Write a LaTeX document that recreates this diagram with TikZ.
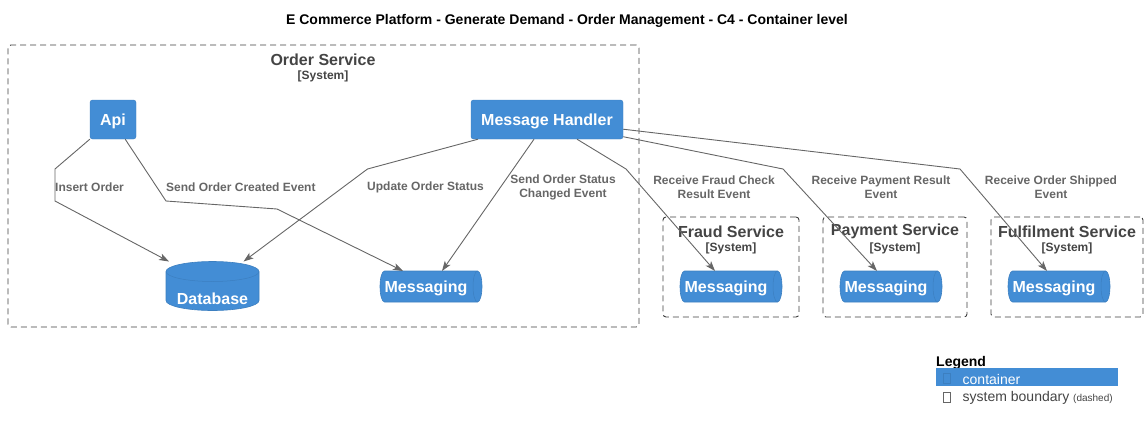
\documentclass[tikz,border=0pt]{standalone}
\usepackage{fontspec}
\setmainfont{Liberation Sans}
\usetikzlibrary{arrows.meta,positioning}
\definecolor{c4blue}{HTML}{438DD5}
\definecolor{c4line}{HTML}{3C7FC0}
\definecolor{relgray}{HTML}{666666}
\definecolor{bndgray}{HTML}{444444}
\newcommand{\pxfont}[1]{\fontsize{#1}{#1}\selectfont}

\begin{document}
\begin{tikzpicture}[x=1pt,y=-1pt,
    container/.style={draw=c4line,fill=c4blue,rounded corners=2.5pt,text=white,font=\pxfont{16}\bfseries,inner sep=0pt,text depth=0pt},
    slot/.style={inner sep=0pt,outer sep=0pt},
    cyl/.style={draw=c4line,fill=c4blue,line width=0.6pt},
    inner/.style={text=white,font=\pxfont{16}\bfseries,inner sep=0pt,yshift=-1.5pt},
    boundary/.style={draw=bndgray!90!black,line width=0.9pt,dash pattern=on 6pt off 4pt,rounded corners=3pt,inner sep=0pt},
    bndtitle/.style={text=bndgray,font=\pxfont{16}\bfseries,inner sep=0pt,yshift=-1.5pt},
    bndtype/.style={text=bndgray,font=\pxfont{12}\bfseries,inner sep=0pt,yshift=-1.5pt},
    rel/.style={draw=relgray,line width=0.9pt,-{Stealth[length=10pt,width=7pt,inset=2.5pt]}},
    rellabel/.style={text=relgray,font=\fontsize{12}{14}\selectfont\bfseries,inner sep=0pt,align=center,yshift=-1.5pt},
    legtext/.style={font=\pxfont{14},inner sep=0pt,anchor=west,yshift=-1.5pt},
    glyph/.style={draw=#1,line width=0.6pt,minimum width=7pt,minimum height=10pt,inner sep=0pt}]
    \useasboundingbox (0,0) rectangle (1148,429);

    \node[font=\pxfont{14}\bfseries,inner sep=0pt,yshift=-1.5pt] (title) at (567,19) {E Commerce Platform - Generate Demand - Order Management - C4 - Container level};

    \node[boundary,minimum width=631pt,minimum height=282pt] (ordersvc) at (323.5,186) {};
    \node[bndtitle] (ordertitle) at (323,58) {Order Service};
    \node[bndtype] (ordertype) at (323,75) {[System]};
    \node[boundary,minimum width=136pt,minimum height=100pt] (fraudsvc) at (731,267) {};
    \node[bndtitle] (fraudtitle) at (731,230) {Fraud Service};
    \node[bndtype] (fraudtype) at (731,247) {[System]};
    \node[boundary,minimum width=144pt,minimum height=100pt] (paysvc) at (895,267) {};
    \node[bndtitle] (paytitle) at (895,230) {Payment Service};
    \node[bndtype] (paytype) at (895,247) {[System]};
    \node[boundary,minimum width=152pt,minimum height=100pt] (fulsvc) at (1067,267) {};
    \node[bndtitle] (fultitle) at (1067,230) {Fulfilment Service};
    \node[bndtype] (fultype) at (1067,247) {[System]};

    \node[container,minimum width=46pt,minimum height=39pt] (api) at (113,119.5) {Api};
    \node[container,minimum width=152pt,minimum height=39pt] (mh) at (547,119.5) {Message Handler};

    \node[slot,minimum width=93pt,minimum height=49pt] (db) at (212.5,286) {};
    \draw[cyl] ([yshift=-10pt]db.north west) -- ([yshift=10pt]db.south west)
        arc[start angle=180,end angle=0,x radius=46.5,y radius=10] -- ([yshift=-10pt]db.north east)
        arc[start angle=0,end angle=-180,x radius=46.5,y radius=10] -- cycle;
    \draw[c4line,line width=0.5pt] ([yshift=-10pt]db.north west) arc[start angle=180,end angle=0,x radius=46.5,y radius=10];
    \node[inner] (dbtext) at ([yshift=-11pt]db.center) {Database};

    \node[slot,minimum width=102pt,minimum height=31pt] (msgorder) at (431,286.5) {};
    \node[slot,minimum width=102pt,minimum height=31pt] (msgfraud) at (731,286.5) {};
    \node[slot,minimum width=102pt,minimum height=31pt] (msgpay) at (891,286.5) {};
    \node[slot,minimum width=102pt,minimum height=31pt] (msgful) at (1059,286.5) {};
    \foreach \q in {msgorder,msgfraud,msgpay,msgful}{
        \draw[cyl] ([xshift=4.5pt]\q.north west) -- ([xshift=-4.5pt]\q.north east)
            arc[start angle=-90,end angle=90,x radius=4.5,y radius=15.5] -- ([xshift=4.5pt]\q.south west)
            arc[start angle=90,end angle=270,x radius=4.5,y radius=15.5] -- cycle;
        \draw[c4line,line width=0.5pt] ([xshift=-4.5pt]\q.north east) arc[start angle=-90,end angle=-270,x radius=4.5,y radius=15.5];
        \node[inner] (\q text) at ([xshift=-5pt]\q.center) {Messaging};
    }

    \draw[rel] (api.south west) -- (55,169) -- (55,201) -- ([xshift=-43.5pt]db.north);
    \node[rellabel,anchor=west] (lblinsert) at (55,186) {Insert Order};
    \draw[rel] ([xshift=-11pt]api.south east) -- (166,201) -- (277,209) -- ([xshift=-28pt]msgorder.north);
    \node[rellabel,anchor=west] (lblcreated) at (166,186) {Send Order Created Event};
    \draw[rel] ([xshift=-69pt]mh.south) -- (367.5,169) -- ([xshift=31pt]db.north);
    \node[rellabel,anchor=west] (lblupdate) at (367,186) {Update Order Status};
    \draw[rel] ([xshift=-13pt]mh.south) -- ([xshift=11pt]msgorder.north);
    \node[rellabel] (lblchanged) at (563,186) {Send Order Status\\Changed Event};
    \draw[rel] ([xshift=30pt]mh.south) -- (626,169) -- ([xshift=-16pt]msgfraud.north);
    \node[rellabel] (lblfraud) at (714,186) {Receive Fraud Check\\Result Event};
    \draw[rel] ([yshift=2.5pt]mh.south east) -- (783,169) -- ([xshift=-14pt]msgpay.north);
    \node[rellabel] (lblpay) at (881,186) {Receive Payment Result\\Event};
    \draw[rel] ([yshift=10pt]mh.south east) -- (960,169) -- ([xshift=-12pt]msgful.north);
    \node[rellabel] (lblship) at (1051,186) {Receive Order Shipped\\Event};

    \node[font=\pxfont{14}\bfseries,inner sep=0pt,anchor=west,yshift=-1.5pt] (legend) at (936,361) {Legend};
    \node[fill=c4blue,anchor=north west,minimum width=182pt,minimum height=18pt,inner sep=0pt] (legbar) at (936,368) {};
    \node[glyph=c4line] (legcontglyph) at (947,378.5) {};
    \node[legtext,text=white] (legcont) at (962.5,377.5) {container};
    \node[glyph=relgray] (legbndglyph) at (947,397) {};
    \node[legtext,text=bndgray] (legbnd) at (962.5,396.5) {system boundary {\pxfont{10}(dashed)}};
\end{tikzpicture}
\end{document}
